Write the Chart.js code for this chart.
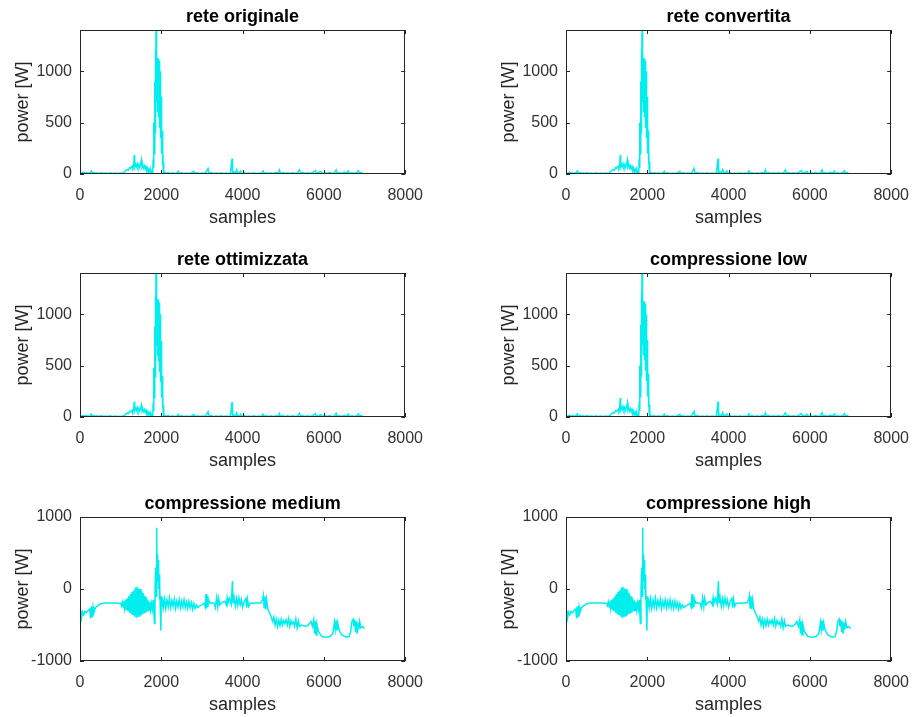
<!DOCTYPE html>
<html>
<head>
<meta charset="utf-8">
<title>power per rete</title>
<script src="https://cdn.jsdelivr.net/npm/chart.js@4.4.0/dist/chart.umd.min.js"></script>
<style>
  body { margin: 0; background: #fff; }
  #fig { position: relative; width: 921px; height: 717px; overflow: hidden; }
  .cell { position: absolute; width: 435px; height: 243px; }
</style>
</head>
<body>
<div id="fig">
  <div class="cell" style="left:0;top:0"><canvas id="c1" width="435" height="243"></canvas></div>
  <div class="cell" style="left:486px;top:0"><canvas id="c2" width="435" height="243"></canvas></div>
  <div class="cell" style="left:0;top:243px"><canvas id="c3" width="435" height="243"></canvas></div>
  <div class="cell" style="left:486px;top:243px"><canvas id="c4" width="435" height="243"></canvas></div>
  <div class="cell" style="left:0;top:487px"><canvas id="c5" width="435" height="243"></canvas></div>
  <div class="cell" style="left:486px;top:487px"><canvas id="c6" width="435" height="243"></canvas></div>
</div>
<script>
/******************************************************************
DATA  (sample, power [W])
******************************************************************/

var titles = ["rete originale", "rete convertita", "rete ottimizzata",
              "compressione low", "compressione medium", "compressione high"];

var xTicks = [0, 2000, 4000, 6000, 8000];
var yTicksTop = [0, 500, 1000];
var yTicksBottom = [-1000, 0, 1000];

// rete originale / convertita / compressione low
var retePts = [[0,15],[40,6],[80,18],[120,8],[160,14],[200,6],[240,12],[280,30],[300,10],[340,16],[380,6],[420,12],[470,5],[520,14],[570,6],[620,10],[680,4],[740,12],[800,5],[860,10],[920,4],[980,9],[1040,5],[1080,16],[1120,30],[1160,45],[1190,38],[1220,62],[1250,55],[1280,75],[1300,60],[1320,88],[1335,185],[1345,70],[1365,95],[1385,72],[1405,100],[1425,68],[1445,92],[1465,64],[1490,95],[1512,138],[1525,66],[1545,88],[1565,58],[1585,80],[1605,50],[1625,72],[1645,38],[1665,58],[1685,26],[1705,45],[1725,14],[1745,38],[1765,10],[1790,12],[1800,150],[1810,60],[1820,500],[1830,200],[1840,900],[1848,400],[1856,1200],[1862,600],[1870,1460],[1876,800],[1884,1300],[1890,700],[1897,1130],[1903,600],[1910,1120],[1916,650],[1922,1110],[1928,600],[1934,1120],[1940,550],[1946,1100],[1952,500],[1958,1080],[1964,450],[1970,1000],[1976,400],[1982,900],[1988,350],[1994,750],[2000,300],[2008,600],[2015,200],[2022,420],[2030,100],[2038,250],[2046,40],[2055,120],[2065,15],[2080,18],[2120,5],[2170,14],[2220,4],[2270,12],[2320,5],[2380,10],[2420,28],[2440,6],[2500,12],[2560,4],[2620,10],[2680,5],[2740,12],[2800,26],[2820,6],[2880,12],[2940,5],[3000,10],[3060,6],[3100,18],[3150,55],[3175,8],[3230,14],[3290,5],[3350,10],[3410,4],[3470,12],[3530,5],[3590,10],[3650,4],[3700,14],[3740,150],[3752,8],[3790,22],[3830,12],[3855,42],[3880,10],[3930,18],[3955,30],[3980,6],[4040,12],[4100,4],[4160,10],[4220,5],[4280,12],[4340,4],[4400,10],[4460,6],[4500,30],[4525,8],[4580,12],[4640,5],[4700,12],[4760,6],[4820,14],[4880,10],[4905,38],[4930,8],[4990,14],[5050,5],[5110,12],[5170,6],[5230,14],[5290,5],[5350,12],[5400,40],[5425,8],[5480,14],[5540,6],[5600,12],[5660,5],[5720,14],[5790,35],[5815,8],[5870,14],[5930,24],[5960,6],[6020,12],[6080,5],[6140,16],[6200,6],[6260,12],[6300,40],[6325,8],[6380,14],[6440,5],[6500,18],[6560,8],[6600,30],[6625,6],[6690,12],[6750,5],[6810,14],[6850,32],[6875,8],[6920,14],[6950,10]];

// rete ottimizzata
var ottimizzataPts = [[0,14],[40,6],[80,16],[120,7],[160,13],[200,5],[240,11],[280,28],[300,9],[340,15],[380,6],[420,11],[470,5],[520,13],[570,6],[620,10],[680,4],[740,11],[800,5],[860,9],[920,4],[980,8],[1040,5],[1080,14],[1120,26],[1160,40],[1190,34],[1220,55],[1250,48],[1280,66],[1300,52],[1320,78],[1335,150],[1345,62],[1365,85],[1385,64],[1405,92],[1425,60],[1445,84],[1465,58],[1490,86],[1512,115],[1525,60],[1545,80],[1565,52],[1585,72],[1605,45],[1625,66],[1645,34],[1665,52],[1685,24],[1705,40],[1725,12],[1745,34],[1765,9],[1790,10],[1800,140],[1810,55],[1820,480],[1830,190],[1840,880],[1848,390],[1856,1180],[1862,590],[1870,1450],[1876,790],[1884,1290],[1890,690],[1897,1150],[1903,590],[1910,1140],[1916,640],[1922,1130],[1928,590],[1934,1140],[1940,540],[1946,1110],[1952,490],[1958,1090],[1964,440],[1970,1000],[1976,390],[1982,890],[1988,340],[1994,740],[2000,290],[2008,580],[2015,190],[2022,400],[2030,95],[2038,240],[2046,38],[2055,110],[2065,14],[2080,16],[2120,5],[2170,13],[2220,4],[2270,11],[2320,5],[2380,9],[2420,25],[2440,6],[2500,11],[2560,4],[2620,9],[2680,5],[2740,11],[2800,24],[2820,6],[2880,11],[2940,5],[3000,9],[3060,6],[3100,16],[3150,50],[3175,7],[3230,13],[3290,5],[3350,9],[3410,4],[3470,11],[3530,5],[3590,9],[3650,4],[3700,13],[3740,145],[3752,7],[3790,20],[3830,11],[3855,38],[3880,9],[3930,16],[3955,28],[3980,6],[4040,11],[4100,4],[4160,9],[4220,5],[4280,11],[4340,4],[4400,9],[4460,6],[4500,28],[4525,7],[4580,11],[4640,5],[4700,11],[4760,6],[4820,13],[4880,9],[4905,34],[4930,7],[4990,13],[5050,5],[5110,11],[5170,6],[5230,13],[5290,5],[5350,11],[5400,36],[5425,7],[5480,13],[5540,6],[5600,11],[5660,5],[5720,13],[5790,32],[5815,7],[5870,13],[5930,22],[5960,6],[6020,11],[6080,5],[6140,15],[6200,6],[6260,11],[6300,36],[6325,7],[6380,13],[6440,5],[6500,16],[6560,7],[6600,28],[6625,6],[6690,11],[6750,5],[6810,13],[6850,30],[6875,7],[6920,13],[6950,9]];

// compressione medium / high
var compressionePts = [[0,-380],[20,-300],[40,-400],[60,-320],[90,-360],[120,-310],[160,-330],[200,-300],[240,-280],[260,-410],[280,-240],[300,-390],[320,-250],[340,-330],[380,-260],[420,-240],[480,-215],[540,-200],[600,-195],[700,-195],[800,-195],[900,-195],[1000,-200],[1020,-230],[1040,-180],[1060,-250],[1080,-170],[1100,-270],[1120,-150],[1140,-290],[1160,-130],[1180,-310],[1200,-100],[1220,-330],[1240,-70],[1260,-350],[1280,-40],[1300,-360],[1320,-20],[1340,-380],[1360,20],[1380,-390],[1400,30],[1420,-380],[1440,10],[1460,-390],[1480,0],[1500,-370],[1520,-30],[1540,-350],[1560,-60],[1580,-340],[1600,-100],[1620,-330],[1640,-130],[1660,-310],[1680,-160],[1700,-300],[1720,-180],[1740,-290],[1760,-200],[1780,-280],[1800,-150],[1815,-300],[1830,-480],[1845,-50],[1860,300],[1872,-100],[1887,850],[1895,200],[1905,480],[1915,100],[1925,400],[1935,0],[1945,200],[1955,-150],[1965,50],[1975,-250],[1990,-580],[2000,-100],[2015,-250],[2030,-130],[2050,-260],[2080,-140],[2110,-270],[2140,-150],[2170,-250],[2200,-130],[2230,-260],[2260,-160],[2290,-240],[2320,-140],[2350,-270],[2380,-170],[2410,-250],[2440,-150],[2470,-260],[2500,-170],[2530,-250],[2560,-150],[2590,-260],[2620,-180],[2650,-270],[2680,-170],[2710,-260],[2740,-190],[2770,-280],[2800,-200],[2830,-270],[2860,-220],[2900,-260],[2950,-230],[3000,-220],[3050,-200],[3080,-250],[3100,-70],[3115,-270],[3130,-90],[3145,-250],[3160,-150],[3200,-200],[3240,-190],[3300,-200],[3330,-260],[3360,-120],[3390,-250],[3410,-130],[3440,-220],[3480,-190],[3520,-180],[3560,-170],[3600,-220],[3620,-120],[3640,-200],[3680,-130],[3720,-210],[3750,110],[3765,-200],[3790,-110],[3820,-240],[3850,-130],[3880,-230],[3910,-120],[3940,-220],[3970,-150],[4000,-250],[4040,-170],[4080,-130],[4100,-260],[4120,-140],[4150,-240],[4180,-200],[4250,-195],[4350,-195],[4450,-195],[4490,-150],[4510,-90],[4530,-260],[4550,-100],[4570,-280],[4590,-150],[4620,-280],[4660,-330],[4700,-380],[4740,-450],[4770,-390],[4800,-500],[4830,-420],[4860,-520],[4890,-430],[4920,-510],[4950,-420],[4980,-500],[5010,-440],[5040,-480],[5070,-430],[5100,-500],[5130,-410],[5160,-520],[5190,-440],[5220,-490],[5250,-460],[5280,-520],[5310,-420],[5340,-540],[5370,-440],[5400,-520],[5450,-500],[5500,-510],[5560,-520],[5620,-500],[5680,-450],[5720,-520],[5750,-430],[5770,-620],[5790,-450],[5810,-640],[5830,-500],[5860,-580],[5900,-620],[5950,-660],[6050,-670],[6150,-660],[6220,-620],[6260,-460],[6280,-560],[6300,-440],[6320,-580],[6340,-470],[6370,-560],[6400,-600],[6450,-640],[6550,-670],[6620,-660],[6660,-580],[6690,-450],[6720,-420],[6740,-520],[6760,-430],[6780,-600],[6800,-450],[6820,-620],[6840,-470],[6860,-560],[6880,-450],[6910,-540],[6950,-520],[7000,-550]];

/******************************************************************
MATLAB STYLE BOX, INWARD TICKS AND TITLE OVER THE AXES
******************************************************************/

var FONT = "'Liberation Sans', Arial, Helvetica, sans-serif";

var boxTicks = {
  id: 'boxTicks',
  afterDraw: function (chart, args, opts) {
    var ctx = chart.ctx;
    var a = chart.chartArea;
    var x = chart.scales.x;
    var y = chart.scales.y;
    var len = 4;
    ctx.save();
    ctx.strokeStyle = '#262626';
    ctx.lineWidth = 1;
    ctx.strokeRect(Math.round(a.left) + 0.5, Math.round(a.top) + 0.5,
                   Math.round(a.right - a.left) - 1, Math.round(a.bottom - a.top) - 1);
    ctx.beginPath();
    x.ticks.forEach(function (t) {
      var px = Math.round(x.getPixelForValue(t.value)) + 0.5;
      ctx.moveTo(px, a.bottom); ctx.lineTo(px, a.bottom - len);
      ctx.moveTo(px, a.top); ctx.lineTo(px, a.top + len);
    });
    y.ticks.forEach(function (t) {
      var py = Math.round(y.getPixelForValue(t.value)) + 0.5;
      ctx.moveTo(a.left, py); ctx.lineTo(a.left + len, py);
      ctx.moveTo(a.right, py); ctx.lineTo(a.right - len, py);
    });
    ctx.stroke();

    // title centred over the axes box, like matlab
    ctx.fillStyle = '#000';
    ctx.font = 'bold 18px ' + FONT;
    ctx.textAlign = 'center';
    ctx.textBaseline = 'middle';
    ctx.fillText(opts.text, (a.left + a.right) / 2, 17);
    ctx.restore();
  }
};

/******************************************************************
SUBPLOT BUILDER
******************************************************************/

function makeSubplot(id, title, pts, yTicks, yMin, yMax) {
  var data = pts.map(function (p) { return { x: p[0], y: p[1] }; });

  return new Chart(document.getElementById(id), {
    type: 'line',
    data: {
      datasets: [{
        data: data,
        borderColor: 'rgb(0, 238, 238)',
        borderWidth: 1.5,
        pointRadius: 0,
        tension: 0,
        fill: false
      }]
    },
    options: {
      responsive: false,
      animation: false,
      devicePixelRatio: 1,
      layout: { padding: { left: 0, right: 20, top: 30, bottom: 0 } },
      plugins: {
        legend: { display: false },
        tooltip: { enabled: false },
        title: { display: false },
        boxTicks: { text: title }
      },
      scales: {
        x: {
          type: 'linear',
          min: 0,
          max: 8000,
          afterBuildTicks: function (scale) {
            scale.ticks = xTicks.map(function (v) { return { value: v }; });
          },
          afterFit: function (scale) { scale.height = 69; },
          grid: { display: false, drawTicks: false },
          border: { display: false },
          ticks: {
            color: '#333',
            padding: 12,
            font: { family: FONT, size: 16 },
            maxRotation: 0,
            callback: function (v) { return String(v); }
          },
          title: {
            display: true,
            text: 'samples',
            color: '#262626',
            font: { family: FONT, size: 18 },
            padding: { top: 0, bottom: 14 }
          }
        },
        y: {
          type: 'linear',
          min: yMin,
          max: yMax,
          afterBuildTicks: function (scale) {
            scale.ticks = yTicks.map(function (v) { return { value: v }; });
          },
          afterFit: function (scale) { scale.width = 80; },
          grid: { display: false, drawTicks: false },
          border: { display: false },
          ticks: {
            color: '#333',
            padding: 8,
            font: { family: FONT, size: 16 },
            callback: function (v) { return String(v); }
          },
          title: {
            display: true,
            text: 'power [W]',
            color: '#262626',
            font: { family: FONT, size: 18 },
            padding: { top: 12, bottom: 0 }
          }
        }
      }
    },
    plugins: [boxTicks]
  });
}

makeSubplot('c1', titles[0], retePts, yTicksTop, 0, 1400);
makeSubplot('c2', titles[1], retePts, yTicksTop, 0, 1400);
makeSubplot('c3', titles[2], ottimizzataPts, yTicksTop, 0, 1400);
makeSubplot('c4', titles[3], retePts, yTicksTop, 0, 1400);
makeSubplot('c5', titles[4], compressionePts, yTicksBottom, -1000, 1000);
makeSubplot('c6', titles[5], compressionePts, yTicksBottom, -1000, 1000);
</script>
</body>
</html>
